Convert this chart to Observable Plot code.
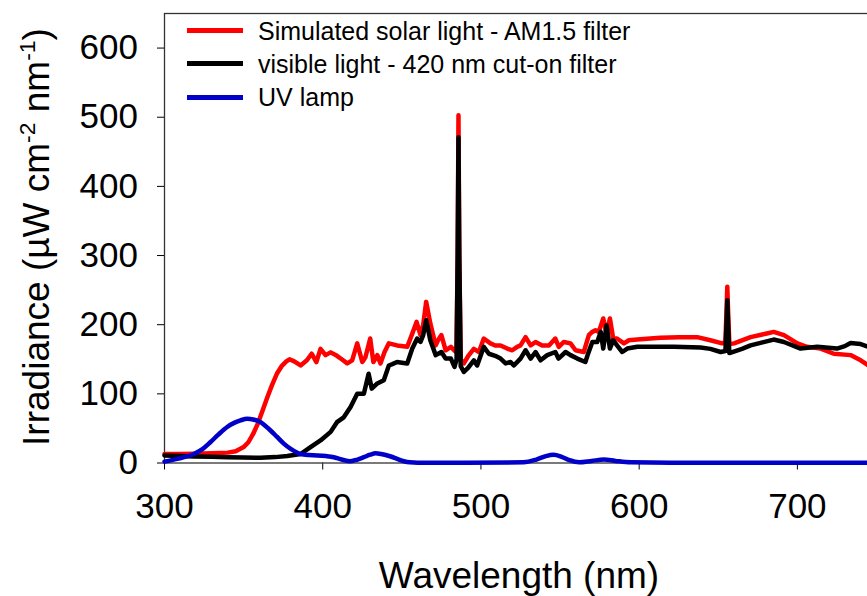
<!DOCTYPE html>
<html>
<head>
<meta charset="utf-8">
<script src="https://cdn.jsdelivr.net/npm/d3@7"></script>
<script src="https://cdn.jsdelivr.net/npm/@observablehq/plot@0.6"></script>
<style>
  html, body { margin: 0; padding: 0; background: #fff; overflow: hidden; }
  #wrap { position: relative; width: 867px; height: 596px; overflow: hidden; font-family: "Liberation Sans", Arial, sans-serif; color: #000; }
  #chart { position: absolute; left: 0; top: 0; width: 876px; height: 596px; }
  #chart svg { max-width: none !important; width: 876px !important; height: 596px !important; }
  .lg-line { position: absolute; height: 4.5px; width: 56px; }
  .lg-text { position: absolute; font-size: 25px; line-height: 34px; white-space: nowrap; }
  #ylab { position: absolute; width: 600px; height: 44px; line-height: 44px; text-align: center; font-size: 37px; white-space: nowrap; transform: rotate(-90deg); transform-origin: 50% 50%; }
  #ylab sup { font-size: 0.62em; vertical-align: 0; position: relative; top: -0.62em; }
  #xlab { position: absolute; width: 500px; text-align: center; font-size: 37px; line-height: 37px; white-space: nowrap; }
</style>
</head>
<body>
<div id="wrap">
  <div id="chart"></div>
</div>
<script>
// ---- data ----
const seriesNames = ["Simulated solar light - AM1.5 filter", "visible light - 420 nm cut-on filter", "UV lamp"];
const seriesColors = ["#ff0000", "#000000", "#0000c8"];

const solarWl  = [300,310,320,330,340,345,350,353,356,359,362,365,368,371,374,377,379,382,386,390,393,396,398.6,401.8,405,409,412,415.5,418.6,421.8,425,427,430,432,434.5,436.5,439,441.8,447,453.4,456.6,459.3,461.8,463.5,465.4,468,471.4,473,475,477.7,481,483,484.5,485.3,485.8,486.3,487.2,489.2,492,495.5,498.7,501.8,506,509,512.4,516.6,519.8,522.9,525,528.2,531.4,534.5,538.7,543,547,549.2,552.4,556.6,559.8,565,568.2,570,572.4,574.5,577.3,579.4,581.5,583.6,586,590.4,593.5,598.8,607,613.5,625,636.7,645,652.5,654.5,655.2,655.7,656.2,657,660,670.4,680,685,691.5,700,706,714.7,723,733.6,740,745,750];
const solarVal = [13,13,13.5,14,15,17,23,30,42,57,76,95,113,129,140,147,150,147,141,148.5,158,146,165,156,160,155,150,144,148.5,173,146,153,180,146,156,144,160,173,170,168,187,204,185,200,233,202,170,178,185,163,168,163,160,300,503,300,150,144,155,165,160.5,180,173,170,170,165.5,163,168,170,182,170,175,170,170,180,168,175,173,163,160.5,185,189,192,189.6,209,187,209,180,180,173,177.5,178.5,180,181,182,182,177.5,173,175,220,255,220,172,173,182,187,189.6,185,173,168,165.5,158,156,148.5,141,135];

const visWl  = [300,310,318.5,330,339.6,350,360.7,370,377.6,386,392.3,398.6,405,409,413.3,417.6,421.8,424,426,429,431,434.5,438.6,441.8,444,447,450,453.4,456.6,459.7,461.8,463.5,465.4,468,471.4,473,475,477.7,481,483.3,484.6,485.3,485.8,486.3,487.2,489.2,492,495.5,497.6,501.8,505,509,512.4,515.6,518.7,520.8,525,528.2,531.4,534.5,537.7,541.9,547,549,553.5,556.6,560.9,566,568,570.4,573.5,575.7,577.3,579.4,581.5,583.6,586,589.3,592.5,598.8,607,622,638.8,645,651.5,654.5,655.2,655.7,656.2,657,658.9,665,670.4,685,691.5,702,712.6,725,730,733.6,740,745,750];
const visVal = [11,10,9.4,9,8.4,8,7.5,8.5,10,13,23,32.6,45,59,66,81,100,100,100,129,107.5,115,119.6,141,143,146,145,144,165.5,180,175,185,206.5,177.5,156,158,160.5,151,151,139,150,300,471,300,140,131.6,138,148.5,141,168,158,155,151,144,146,141,151,163,151,160.5,148.5,156,160.5,151,160.5,156,151,146,160,175,175,189.6,165.5,199,165.5,177.5,170,160.5,165.5,168,168,168,167,165,160.5,162,200,235.5,200,159,160.5,165,170,178.5,175,165.5,168,165.5,169,173.6,172,168,166];

const uvWl  = [300,308,318.5,324,329,334,339.6,344,348,352.3,356,360.7,364,367,371,375.4,380,386,391,396.5,402,407,412,417.6,422,426,430,433.4,437,443,447,451.3,455,460,490,527,535,541,546,551,556,562,570,577.7,585,594.6,620,750];
const uvVal = [2,6,13,20,30,41,52,58,61.6,64,63,59,53,47,38,28,20,13,11.5,11,10,8.4,5,2.6,5,8.4,12,14,13,9.4,6,2.6,1,0.5,0.5,1,5,10,12,9,4,1,3,5,3,1,0.5,0.5];

const xTicks = [300, 400, 500, 600, 700];
const yTicks = [0, 100, 200, 300, 400, 500, 600];

// ---- build tables ----
const toRows = (wl, val, name) => wl.map((w, i) => ({wl: w, v: val[i], series: name}));
const solar = toRows(solarWl, solarVal, seriesNames[0]);
const vis = toRows(visWl, visVal, seriesNames[1]);
const uv = toRows(uvWl, uvVal, seriesNames[2]);

const chart = Plot.plot({
  width: 876,
  height: 596,
  marginLeft: 164,
  marginRight: 0,
  marginTop: 13,
  marginBottom: 133.5,
  style: {fontFamily: "'Liberation Sans', Arial, sans-serif", fontSize: "35px", background: "transparent", color: "#000", maxWidth: "none"},
  x: {domain: [300, 750], ticks: xTicks, tickSize: 7, tickPadding: 23, label: null},
  y: {domain: [0, 650], ticks: yTicks, tickSize: 7, tickPadding: 19.5, label: null},
  marks: [
    Plot.frame({stroke: "#333", strokeWidth: 1.3}),
    Plot.line(solar, {x: "wl", y: "v", stroke: seriesColors[0], strokeWidth: 4.5, curve: "linear", strokeLinejoin: "round"}),
    Plot.line(vis, {x: "wl", y: "v", stroke: seriesColors[1], strokeWidth: 4.5, curve: "linear", strokeLinejoin: "round"}),
    Plot.line(uv, {x: "wl", y: "v", stroke: seriesColors[2], strokeWidth: 4.5, curve: "monotone-x", strokeLinejoin: "round"})
  ]
});
document.getElementById("chart").appendChild(chart);

const wrap = document.getElementById("wrap");

// legend
const legendY = [30.7, 63.6, 97.3];
seriesNames.forEach((name, i) => {
  const ln = document.createElement("div");
  ln.className = "lg-line";
  ln.style.left = "187px";
  ln.style.top = (legendY[i] - 2.25) + "px";
  ln.style.background = seriesColors[i];
  wrap.appendChild(ln);
  const tx = document.createElement("div");
  tx.className = "lg-text";
  tx.style.left = "258px";
  tx.style.top = (legendY[i] - 17) + "px";
  tx.textContent = name;
  wrap.appendChild(tx);
});

// axis titles
const yl = document.createElement("div");
yl.id = "ylab";
yl.innerHTML = "Irradiance (µW cm<sup>-2</sup> nm<sup>-1</sup>)";
yl.style.left = (37 - 300) + "px";
yl.style.top = (237 - 22) + "px";
wrap.appendChild(yl);

const xl = document.createElement("div");
xl.id = "xlab";
xl.textContent = "Wavelength (nm)";
xl.style.left = (519 - 250) + "px";
xl.style.top = "557px";
wrap.appendChild(xl);
</script>
</body>
</html>
